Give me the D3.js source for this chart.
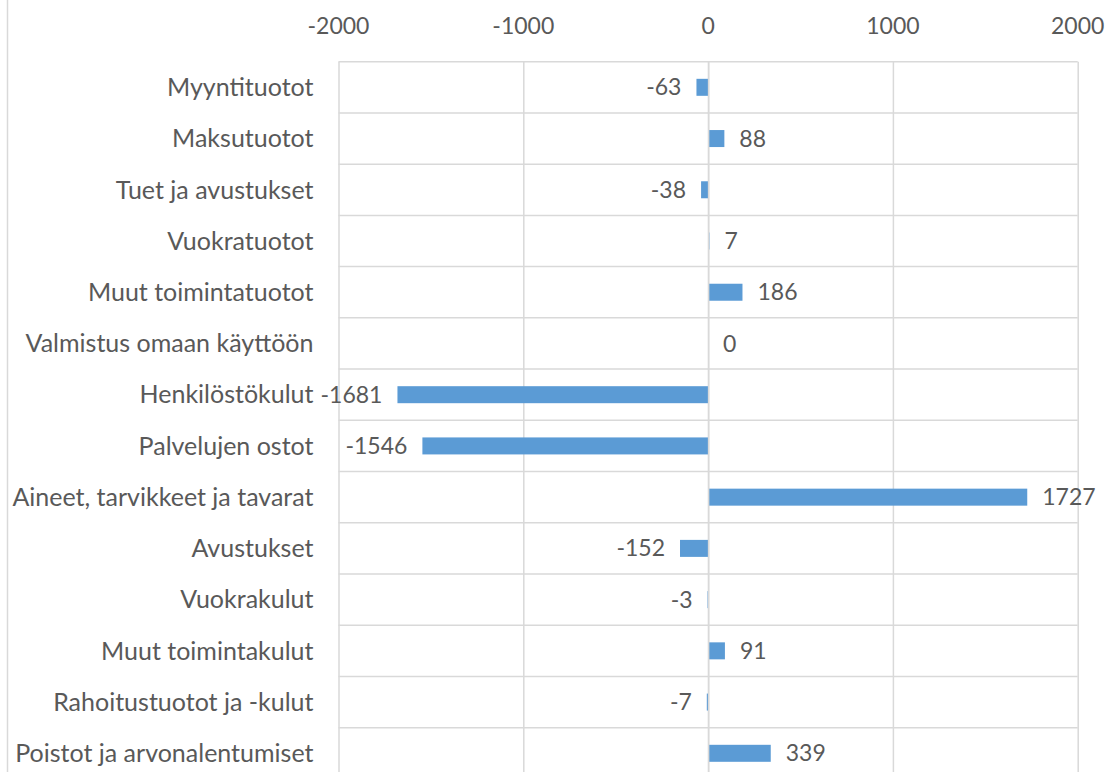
<!DOCTYPE html>
<html>
<head>
<meta charset="utf-8">
<script src="https://cdn.jsdelivr.net/npm/d3@7"></script>
<style>
  body { margin: 0; background: #fff; }
  svg { display: block; }
  .grid line { stroke: #d9d9d9; stroke-width: 1.5; }
  .grid path { display: none; }
  text { font-family: Lato, "Open Sans", sans-serif; fill: #595959; }
</style>
</head>
<body>
<div id="chart"></div>
<script>
const categories = [
  "Myyntituotot", "Maksutuotot", "Tuet ja avustukset", "Vuokratuotot",
  "Muut toimintatuotot", "Valmistus omaan käyttöön", "Henkilöstökulut",
  "Palvelujen ostot", "Aineet, tarvikkeet ja tavarat", "Avustukset",
  "Vuokrakulut", "Muut toimintakulut", "Rahoitustuotot ja -kulut",
  "Poistot ja arvonalentumiset"
];
const values = [-63, 88, -38, 7, 186, 0, -1681, -1546, 1727, -152, -3, 91, -7, 339];
const xTicks = [-2000, -1000, 0, 1000, 2000];

const W = 1107, H = 772;
const margin = { top: 61.7, left: 338.5 };
const width = 739.2;
const bandH = 51.23;
const height = bandH * categories.length;

const svg = d3.select("#chart").append("svg")
  .attr("width", W)
  .attr("height", H);

// outer chart border (left edge visible)
svg.append("line")
  .attr("x1", 7.5).attr("x2", 7.5)
  .attr("y1", 0).attr("y2", H)
  .attr("stroke", "#d9d9d9")
  .attr("stroke-width", 1.5);

const g = svg.append("g")
  .attr("transform", `translate(${margin.left},${margin.top})`);

const x = d3.scaleLinear().domain([-2000, 2000]).range([0, width]);
const y = d3.scaleBand().domain(categories).range([0, height]).paddingInner(0).paddingOuter(0);

// horizontal row lines
g.append("g")
  .attr("class", "grid")
  .selectAll("line")
  .data(categories.concat([null]))
  .join("line")
  .attr("x1", 0).attr("x2", width)
  .attr("y1", (d, i) => i * y.step())
  .attr("y2", (d, i) => i * y.step());

// vertical gridlines
g.append("g")
  .attr("class", "grid")
  .call(d3.axisTop(x).tickValues(xTicks).tickSize(-height).tickFormat(""));

// bars
const barH = 17;
g.append("g")
  .selectAll("rect")
  .data(values)
  .join("rect")
  .attr("x", d => Math.min(x(0), x(d)))
  .attr("y", (d, i) => y(categories[i]) + (y.bandwidth() - barH) / 2)
  .attr("width", d => Math.abs(x(d) - x(0)))
  .attr("height", barH)
  .attr("fill", "#5b9bd5");

// zero line on top of the bars (hides the tiniest ones, as in the original)
g.append("g")
  .attr("class", "grid")
  .call(d3.axisTop(x).tickValues([0]).tickSize(-height).tickFormat(""));

// x tick labels on top
g.append("g")
  .selectAll("text")
  .data(xTicks)
  .join("text")
  .attr("x", d => x(d))
  .attr("y", -28)
  .attr("text-anchor", "middle")
  .attr("font-size", 23)
  .text(d => d);

// category labels
g.append("g")
  .selectAll("text")
  .data(categories)
  .join("text")
  .attr("x", -25)
  .attr("y", d => y(d) + y.bandwidth() / 2)
  .attr("dy", "0.35em")
  .attr("text-anchor", "end")
  .attr("font-size", 25)
  .text(d => d);

// data labels
g.append("g")
  .selectAll("text")
  .data(values)
  .join("text")
  .attr("x", d => d < 0 ? x(d) - 15 : x(d) + 15)
  .attr("y", (d, i) => y(categories[i]) + y.bandwidth() / 2)
  .attr("dy", "0.35em")
  .attr("text-anchor", d => d < 0 ? "end" : "start")
  .attr("font-size", 23)
  .text(d => d);
</script>
</body>
</html>
